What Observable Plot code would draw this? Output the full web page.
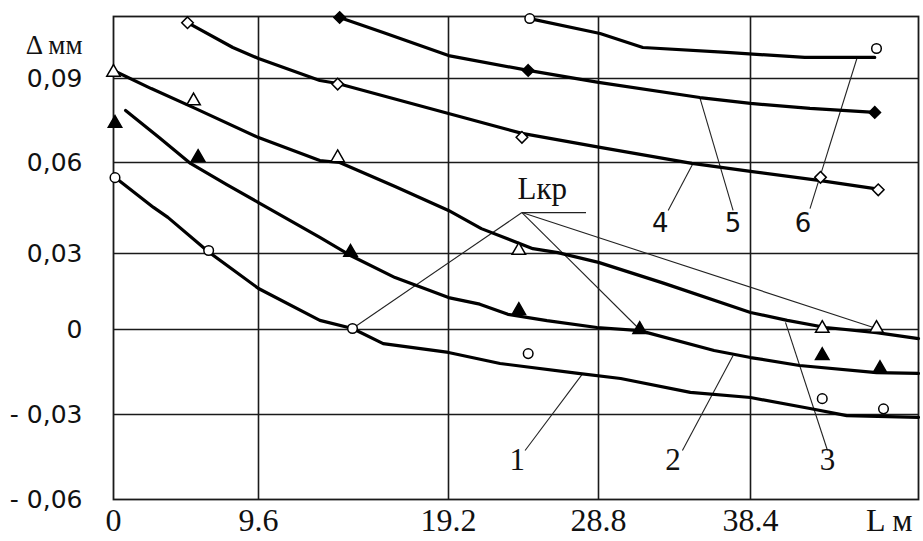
<!DOCTYPE html>
<html>
<head>
<meta charset="utf-8">
<script src="https://cdn.jsdelivr.net/npm/d3@7"></script>
<script src="https://cdn.jsdelivr.net/npm/@observablehq/plot@0.6"></script>
<style>
  html, body { margin: 0; padding: 0; background: #fff; }
  #chart svg { display: block; overflow: visible; }
</style>
</head>
<body>
<div id="chart"></div>
<script>
// ---- axis values ----
const xTicks = [0, 9.6, 19.2, 28.8, 38.4];
const xTickLabels = ["0", "9.6", "19.2", "28.8", "38.4"];
const xGrid = [9.6, 19.2, 28.8, 38.4];
const xBreaks = [0, 9.6, 19.2, 28.8, 38.4, 48];
const yTicks = [-0.06, -0.03, 0, 0.03, 0.06, 0.09];
const yTickLabels = ["- 0,06", "- 0,03", "0", "0,03", "0,06", "0,09"];
const yGrid = [-0.03, 0, 0.03, 0.06, 0.09];
const yBreaks = [-0.06, -0.03, 0, 0.03, 0.06, 0.09, 0.12];
const xTitle = "L м";
const yTitle = "Δ мм";

// ---- curve 1 (open circles) ----
const c1L = [0.13, 2.65, 3.6, 6.3, 8.0, 9.6, 12.7, 14.35, 15.9, 19.2, 22.5, 27.5, 30.2, 34.6, 38.4, 41.8, 43.9, 48];
const c1D = [0.055, 0.0452, 0.0419, 0.0305, 0.0232, 0.0162, 0.0036, 0.0004, -0.005, -0.0081, -0.012, -0.0155, -0.0173, -0.0222, -0.024, -0.0279, -0.0304, -0.031];
const m1L = [0.1, 6.3, 14.35, 24.3, 42.5, 46];
const m1D = [0.055, 0.031, 0.0004, -0.0085, -0.0244, -0.028];

// ---- curve 2 (filled triangles) ----
const c2L = [0.8, 3, 5.1, 7.5, 9.6, 12.7, 14.3, 16.5, 19.2, 21.2, 23.0, 25.5, 28.7, 31.4, 36.1, 38.4, 41.2, 45.6, 48];
const c2D = [0.0786, 0.069, 0.0597, 0.0527, 0.0468, 0.0353, 0.029, 0.0205, 0.0126, 0.0100, 0.0060, 0.0035, 0.0008, -0.0004, -0.0074, -0.0099, -0.0127, -0.0152, -0.0155];
const m2L = [0.1, 5.6, 14.25, 23.7, 31.4, 42.5, 45.8];
const m2D = [0.074, 0.0618, 0.0304, 0.0075, 0.0, -0.0092, -0.0138];

// ---- curve 3 (open triangles) ----
const c3L = [0, 2.5, 5.3, 9.6, 12.7, 13.7, 16.5, 19.2, 21.3, 24.6, 26.2, 28.8, 32.9, 38.4, 40.5, 42.7, 45.6, 48];
const c3D = [0.0939, 0.0864, 0.0796, 0.0689, 0.0607, 0.06, 0.0521, 0.0442, 0.0382, 0.0316, 0.0303, 0.0265, 0.0183, 0.0067, 0.0036, 0.0008, -0.0011, -0.0032];
const m3L = [0, 5.3, 13.6, 23.7, 42.5, 45.6];
const m3D = [0.093, 0.082, 0.0617, 0.031, 0.0004, 0.0004];

// ---- curve 4 (open diamonds) ----
const c4L = [4.9, 7.9, 9.6, 12.7, 13.6, 19.2, 23.9, 28.9, 34.7, 38.4, 42.4, 45.7];
const c4D = [0.117, 0.105, 0.0997, 0.0893, 0.0882, 0.0775, 0.0704, 0.0654, 0.0597, 0.0571, 0.054, 0.0512];
const m4L = [4.9, 13.6, 23.9, 42.4, 45.7];
const m4D = [0.117, 0.088, 0.069, 0.0551, 0.051];

// ---- curve 5 (filled diamonds) ----
const c5L = [13.7, 15.9, 19.2, 24.3, 28.8, 35.2, 38.4, 41.8, 45.5];
const c5D = [0.1195, 0.1123, 0.1011, 0.0939, 0.0886, 0.0832, 0.0811, 0.0793, 0.0779];
const m5L = [13.7, 24.3, 45.5];
const m5D = [0.1195, 0.0939, 0.0779];

// ---- curve 6 (open circles) ----
const c6L = [24.4, 28.9, 31.6, 36.9, 41.5, 45.5];
const c6D = [0.119, 0.1118, 0.105, 0.1026, 0.1002, 0.1002];
const m6L = [24.4, 45.6];
const m6D = [0.119, 0.1045];

// ---- curve number labels and leaders ----
const annText = ["1", "2", "3", "4", "5", "6"];
const annL = [23.6, 33.5, 42.8, 32.7, 37.3, 41.4];
const annD = [-0.0462, -0.0462, -0.0462, 0.0399, 0.0399, 0.0399];
const leadFromL = [24.1, 34.1, 42.8, 33.2, 37.3, 41.8];
const leadFromD = [-0.0427, -0.0427, -0.0427, 0.0442, 0.0442, 0.0448];
const leadToL = [27.8, 37.3, 40.4, 34.8, 35.2, 44.5];
const leadToD = [-0.0155, -0.0092, 0.0028, 0.06, 0.0832, 0.1003];

// ---- critical length (Lкр) annotation ----
const lkpText = "Lкр";
const lkpTextL = 25.2, lkpTextD = 0.0514;
const lkpBarL = [23.9, 28.0];
const lkpBarD = 0.0435;
const lkpPointL = [14.35, 31.4, 45.6];
const lkpPointD = [0.0004, 0.0, 0.0004];

// ---- build rows ----
const rows = (L, D) => L.map((l, i) => ({L: l, D: D[i]}));
const lines = [[c1L, c1D], [c2L, c2D], [c3L, c3D], [c4L, c4D], [c5L, c5D], [c6L, c6D]];
const markerSets = [
  {L: m1L, D: m1D, symbol: "circle", fill: "white", r: 4.8},
  {L: m2L, D: m2D, symbol: "triangle", fill: "black", r: 5},
  {L: m3L, D: m3D, symbol: "triangle", fill: "white", r: 5},
  {L: m4L, D: m4D, symbol: "diamond2", fill: "white", r: 5.2},
  {L: m5L, D: m5D, symbol: "diamond2", fill: "black", r: 5.2},
  {L: m6L, D: m6D, symbol: "circle", fill: "white", r: 4.8}
];
const annRows = annText.map((t, i) => ({t, L: annL[i], D: annD[i], L1: leadFromL[i], D1: leadFromD[i], L2: leadToL[i], D2: leadToD[i], serif: i < 3}));
const lkpRows = lkpPointL.map((l, i) => ({L1: lkpBarL[0], D1: lkpBarD, L2: l, D2: lkpPointD[i]}));

const serif = "'Liberation Serif', 'Times New Roman', serif";
const sans = "'DejaVu Sans', Verdana, sans-serif";

const marks = [
  Plot.gridX(xGrid, {stroke: "#1a1a1a", strokeOpacity: 1, strokeWidth: 1.6}),
  Plot.gridY(yGrid, {stroke: "#1a1a1a", strokeOpacity: 1, strokeWidth: 1.6}),
  Plot.frame({stroke: "#1a1a1a", strokeWidth: 1.8}),
  Plot.axisX({ticks: xTicks, tickFormat: d => xTickLabels[xTicks.indexOf(d)], tickSize: 0, tickPadding: 9,
    fontFamily: serif, fontSize: 32, fill: "#111"}),
  Plot.axisY({ticks: yTicks, tickFormat: d => yTickLabels[yTicks.indexOf(d)], tickSize: 0, tickPadding: 31,
    fontFamily: sans, fontSize: 25, fill: "#111"}),
  Plot.text([xTitle], {x: 48, y: -0.06, dx: -6, dy: 21, textAnchor: "end", lineAnchor: "middle",
    fontFamily: serif, fontSize: 32, fill: "#111"}),
  Plot.text([yTitle], {x: 0, y: 0.106, dx: -31, textAnchor: "end", fontFamily: serif, fontSize: 27, fill: "#111"}),
  // leader lines
  Plot.link(annRows, {x1: "L1", y1: "D1", x2: "L2", y2: "D2", stroke: "#222", strokeWidth: 1.1}),
  Plot.link(lkpRows, {x1: "L1", y1: "D1", x2: "L2", y2: "D2", stroke: "#222", strokeWidth: 1.1}),
  Plot.link([lkpBarD], {x1: lkpBarL[0], x2: lkpBarL[1], y1: lkpBarD, y2: lkpBarD, stroke: "#222", strokeWidth: 1.3}),
  // curves
  ...lines.map(([L, D]) => Plot.line(rows(L, D), {x: "L", y: "D", stroke: "black", strokeWidth: 3.2, curve: "linear"})),
  ...markerSets.map(m => Plot.dot(rows(m.L, m.D), {x: "L", y: "D", symbol: m.symbol, r: m.r, fill: m.fill, stroke: "black", strokeWidth: 1.5})),
  // labels
  Plot.text(annRows.filter(d => d.serif), {x: "L", y: "D", text: "t", fontFamily: serif, fontSize: 31, fill: "#111"}),
  Plot.text(annRows.filter(d => !d.serif), {x: "L", y: "D", text: "t", fontFamily: sans, fontSize: 26, fill: "#111"}),
  Plot.text([lkpText], {x: lkpTextL, y: lkpTextD, fontFamily: serif, fontSize: 31, fill: "#111"})
];

const chart = Plot.plot({
  width: 923,
  height: 541,
  marginLeft: 113,
  marginRight: 5,
  marginTop: 16,
  marginBottom: 42,
  style: {background: "white", overflow: "visible"},
  x: {type: "linear", domain: xBreaks, range: [113, 258, 448, 598, 750, 918]},
  y: {type: "linear", domain: yBreaks, range: [499, 414, 329, 253, 162, 78, 16]},
  marks
});
document.getElementById("chart").appendChild(chart);
</script>
</body>
</html>
